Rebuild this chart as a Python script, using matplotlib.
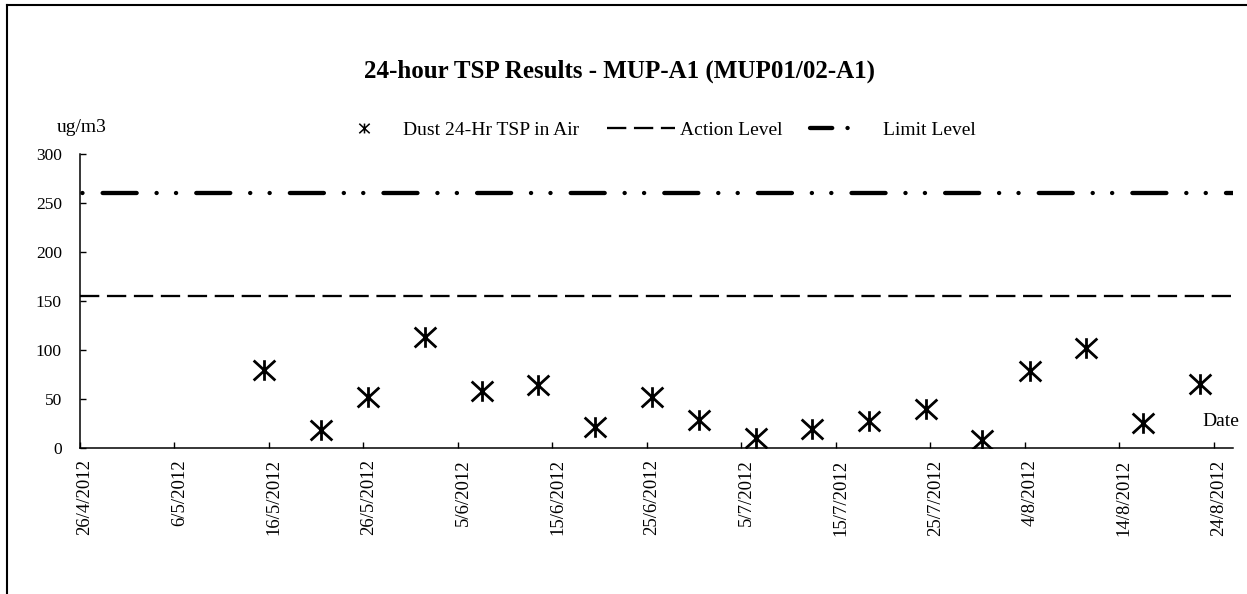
import matplotlib
matplotlib.use('Agg')
import matplotlib.pyplot as plt
import matplotlib.transforms as mtransforms
from matplotlib.path import Path
from matplotlib.lines import Line2D
import pandas as pd

# ---------------- data ----------------
sample_dates = ['2012-05-15', '2012-05-21', '2012-05-26', '2012-06-01', '2012-06-07',
                '2012-06-13', '2012-06-19', '2012-06-25', '2012-06-30', '2012-07-06',
                '2012-07-12', '2012-07-18', '2012-07-24', '2012-07-30', '2012-08-04',
                '2012-08-10', '2012-08-16', '2012-08-22']
tsp_values = [80, 19, 52, 113, 58, 65, 22, 52, 29, 10, 20, 28, 40, 8, 79, 102, 26, 66]
action_level = 155
limit_level = 260
tick_dates = pd.date_range('2012-04-26', '2012-08-24', freq='10D')
x_start, x_end = '2012-04-26', '2012-08-26'
y_ticks = [0, 50, 100, 150, 200, 250, 300]

title = '24-hour TSP Results - MUP-A1 (MUP01/02-A1)'
series_label = 'Dust 24-Hr TSP in Air'
action_label = 'Action Level'
limit_label = 'Limit Level'
unit_label = 'ug/m3'
date_label = 'Date'

# ---------------- style ----------------
plt.rcParams['font.family'] = ['Liberation Serif', 'DejaVu Serif']
plt.rcParams['lines.scale_dashes'] = False

W, H = 1247, 594
fig = plt.figure(figsize=(W / 100, H / 100), dpi=100)
fig.patch.set_facecolor('white')

left, right, bottom, top = 80 / W, 1232.7 / W, 1 - 448.3 / H, 1 - 154 / H
ax = fig.add_axes([left, bottom, right - left, top - bottom])

# asterisk-like marker: X with vertical bar
star = Path([(-1, -0.92), (1, 0.92), (-1, 0.92), (1, -0.92), (0, -0.95), (0, 0.95)],
            [Path.MOVETO, Path.LINETO, Path.MOVETO, Path.LINETO, Path.MOVETO, Path.LINETO])

action_style = (0, (13.9, 5.5))
limit_style = (51.1, (24.5, 14.3, 0.1, 13.9, 0.1, 14.5))

# points are drawn in the middle of their day slot (date axis "between tick marks")
x = pd.to_datetime(sample_dates) + pd.Timedelta(hours=12)
ax.plot(x, tsp_values, linestyle='none', marker=star, markersize=15.6, mew=2.0,
        mfc='none', mec='black')
ax.axhline(action_level, color='black', lw=1.65, linestyle=action_style)
ax.axhline(limit_level, color='black', lw=3.1, linestyle=limit_style,
           dash_capstyle='round')

ax.set_xlim(pd.Timestamp(x_start), pd.Timestamp(x_end))
ax.set_ylim(0, 300)
ax.set_yticks(y_ticks)
ax.set_xticks(tick_dates)
ax.set_xticklabels([f'{d.day}/{d.month}/{d.year}' for d in tick_dates],
                   rotation=90, fontsize=13.5)
ax.tick_params(axis='x', direction='in', length=4.3, width=1, pad=8, colors='black')
ax.tick_params(axis='y', direction='in', length=4.3, width=1, pad=13, labelsize=12.5,
               colors='black')
for s in ['top', 'right']:
    ax.spines[s].set_visible(False)
for s in ['left', 'bottom']:
    ax.spines[s].set_linewidth(1.1)
    ax.spines[s].set_color('black')

shift = mtransforms.ScaledTranslation(5 / 100, 0, fig.dpi_scale_trans)
for lab in ax.get_xticklabels():
    lab.set_transform(lab.get_transform() + shift)

# legend samples
handles = [
    Line2D([], [], linestyle='none', marker=star, markersize=7.5, mew=1.1,
           mfc='none', mec='black'),
    Line2D([], [], color='black', lw=1.65, linestyle=action_style),
    Line2D([], [], color='black', lw=3.1, linestyle=(0, (16, 11, 0.1, 30)),
           dash_capstyle='round'),
]
ax.legend(handles, [series_label, action_label, limit_label],
          loc='center', bbox_to_anchor=(653 / W, 1 - 130 / H),
          bbox_transform=fig.transFigure, ncol=3, frameon=False, fontsize=14,
          handlelength=3.5, handletextpad=0.28, columnspacing=1.4, numpoints=1,
          borderpad=0, borderaxespad=0)

fig.text(620 / W, 1 - 71 / H, title, ha='center', va='center', fontsize=18,
         fontweight='bold')
fig.text(57 / W, 1 - 128 / H, unit_label, ha='left', va='center', fontsize=14)
fig.text(1202 / W, 1 - 421 / H, date_label, ha='left', va='center', fontsize=14)

# outer frame (left and top border)
fig.add_artist(Line2D([7.3 / W, 7.3 / W], [0, 1 - 5 / H], transform=fig.transFigure,
                      color='black', lw=1.5))
fig.add_artist(Line2D([7.3 / W, 1], [1 - 5 / H, 1 - 5 / H], transform=fig.transFigure,
                      color='black', lw=1.5))

fig.savefig('out.png', dpi=100)
